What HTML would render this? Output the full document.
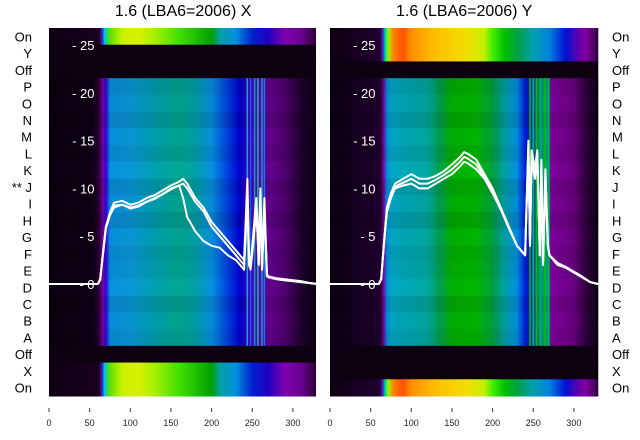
<!DOCTYPE html>
<html><head><meta charset="utf-8"><style>
body{margin:0;background:#fff;width:640px;height:440px;overflow:hidden}
svg{display:block;font-family:"Liberation Sans","DejaVu Sans",sans-serif}
</style></head><body>
<svg id="c" width="640" height="440"></svg>
<script>
const rowLabels=["On","Y","Off","P","O","N","M","L","K","J","I","H","G","F","E","D","C","B","A","Off","X","On"];
const xTicks=[0,50,100,150,200,250,300];
const yTicks=[0,5,10,15,20,25];
const freqs=[0,60,63,66,70,75,80,90,100,110,120,130,140,150,160,165,170,180,190,200,210,220,230,240,244,246,248,252,255,258,260,262,265,268,270,280,290,300,310,320,330];
const xLine1=[0,0,0.5,3,6,7.5,8.5,8.7,8.3,8.5,9,9.3,9.8,10.3,10.7,11,10.5,9,8,6.5,5.5,4.5,3.5,2.5,11,3,2,6,9,3,10,2,9,1,0.8,0.6,0.5,0.4,0.3,0.1,0];
const xLine2=[0,0,0.5,3,6,7.3,8.2,8.3,8,8.2,8.6,9,9.4,10,10.3,9,7,5.5,4.5,4,3.8,3,2.5,1.5,9,2,1.5,5,8,2,9,1.5,8,1,0.7,0.5,0.4,0.3,0.2,0.1,0];
const xLine3=[0,0,0.4,2.8,5.8,7.2,8,8.3,7.9,8.1,8.6,8.9,9.4,9.9,10.3,10.5,10,8.6,7.6,6,5,4,3,2,10,2.5,1.8,5,8,2.5,9,1.5,8,0.8,0.7,0.5,0.4,0.3,0.2,0.1,0];
const yLine1=[0,0,0.5,4,8,9.5,10.5,11,11.5,11,11,11.3,11.8,12.5,13.3,13.8,13.6,13,11.5,10,8,6,4,3,15,4,14,12,14,3,13,2,12,4,3,2.2,1.8,1.3,0.8,0.2,0];
const yLine2=[0,0,0.5,4,7.5,9,10,10.3,10.5,10,10,10.5,11,11.5,12.3,12.8,12.6,12,11,9.5,7.8,5.8,4,3,14,4,13,11,13,3,12,2,11,4,3,2,1.7,1.2,0.7,0.2,0];
const yLine3=[0,0,0.5,3.8,7.8,9.2,10.2,10.6,11,10.5,10.5,10.9,11.4,12,12.8,13.3,13.1,12.5,11.2,9.8,7.9,5.9,4,3,14.5,4,13.5,11.5,13.5,3,12.5,2,11.5,4,3,2.1,1.7,1.2,0.7,0.2,0];
const rowShade=[0,0,0,0.10,0.05,0.12,0.02,0.08,0,0.1,0.04,0.12,0.02,0.08,0.05,0,0.1,0.03,0.08,0,0,0];

const NS="http://www.w3.org/2000/svg";
const svgEl=document.getElementById('c');
function mk(t,a,p){const e=document.createElementNS(NS,t);for(const k in a)e.setAttribute(k,a[k]);(p||svgEl).appendChild(e);return e;}
const plotTop=28,plotBot=396,rowH=(plotBot-plotTop)/22;
const defs=mk('defs',{});
const brightX=[[0,'#0d0010'],[62,'#1a0020'],[64,'#6a0090'],[66,'#0040ff'],[68,'#00c0e0'],[75,'#60e000'],[90,'#c8f000'],[110,'#d8f000'],[130,'#a8f000'],[160,'#40e000'],[200,'#00a000'],[210,'#00a0a0'],[230,'#0090e0'],[250,'#0020d0'],[270,'#2000c0'],[290,'#8000b0'],[310,'#6a0090'],[330,'#2a0030']];
const midX=[[0,'#0a0010'],[55,'#100015'],[62,'#300040'],[66,'#8000a0'],[70,'#3000e0'],[75,'#0890e0'],[100,'#0a98d8'],[130,'#00a0b0'],[160,'#00a890'],[180,'#00a0a8'],[200,'#0890e0'],[220,'#0040e0'],[235,'#0000d0'],[245,'#4000c0'],[260,'#7000a0'],[290,'#500070'],[310,'#200030'],[330,'#0a0010']];
const brightY=[[0,'#0d0010'],[62,'#200030'],[64,'#8000a0'],[66,'#0060ff'],[68,'#00e080'],[72,'#a0f000'],[78,'#ff8000'],[90,'#ff5000'],[100,'#ff9000'],[130,'#ffc000'],[170,'#f0e000'],[190,'#c0f000'],[200,'#40f000'],[215,'#00c000'],[230,'#00a040'],[250,'#00a0b0'],[270,'#0080e0'],[290,'#0010d0'],[305,'#6000b0'],[315,'#8000a0'],[330,'#300040']];
const midY=[[0,'#0a0010'],[62,'#200030'],[66,'#8000a0'],[70,'#0090e0'],[75,'#00a8c8'],[120,'#00a8a0'],[135,'#00a050'],[150,'#00b000'],[180,'#00b800'],[200,'#00a040'],[215,'#00a0a8'],[230,'#0090e0'],[240,'#0020e0'],[245,'#0010d0'],[258,'#00a050'],[270,'#00a0a0'],[271,'#8000a0'],[300,'#6a0080'],[315,'#300040'],[330,'#0a0010']];
function grad(id,stops,xs){const g=mk('linearGradient',{id:id,gradientUnits:'userSpaceOnUse',x1:xs(0),x2:xs(330),y1:0,y2:0},defs);
 stops.forEach(s=>mk('stop',{offset:(s[0]/330),'stop-color':s[1]},g));}

function panel(p){
 const x0=p.x0,xs=v=>x0+v*0.813,ys=v=>284-v*9.56;
 const g=mk('g',{});
 grad(p.id+'b',p.bright,xs);grad(p.id+'m',p.mid,xs);
 for(let i=0;i<22;i++){
  const y=plotTop+i*rowH;let fill;
  if(p.brightRows.includes(i))fill='url(#'+p.id+'b)';else if(i>=3&&i<=18)fill='url(#'+p.id+'m)';else fill='#0d0010';
  const r=mk('rect',{x:xs(0),y:y,width:xs(330)-xs(0),height:rowH+0.5,fill:fill},g);
  
  
  if(rowShade[i]>0)mk('rect',{x:xs(0),y:y,width:xs(330)-xs(0),height:rowH,fill:'#000',opacity:rowShade[i]},g);
 }
 p.stripes.forEach(s=>mk('rect',{x:xs(s[0]),y:plotTop+3*rowH,width:1.5,height:16*rowH,fill:s[1]},g));
 yTicks.forEach(t=>{const e=mk('text',{x:xs(56),y:ys(t)+5,'text-anchor':'end','font-size':13,fill:'#fff'},g);e.textContent='- '+t;
  
  });
 p.lines.forEach((L,k)=>{const d=freqs.map((f,i)=>(i?'L':'M')+xs(f).toFixed(1)+','+ys(L[i]).toFixed(1)).join(' ');
  const e=mk('path',{d:d,fill:'none',stroke:'#fff','stroke-width':2,'stroke-linejoin':'round'},g);
  
  });
 xTicks.forEach(t=>{mk('line',{x1:xs(t),x2:xs(t),y1:408,y2:412,stroke:'#333'},g);
  const e=mk('text',{x:xs(t),y:426,'text-anchor':'middle','font-size':9,fill:'#222'},g);e.textContent=t;
  
  });
 const tt=mk('text',{x:xs(165),y:16,'text-anchor':'middle','font-size':16,fill:'#000'},g);tt.textContent=p.title;
 
 
}
panel({x0:49,id:'px',name:'x-panel',title:'1.6 (LBA6=2006) X',bright:brightX,mid:midX,brightRows:[0,20,21],
 stripes:[[243,'#00b0e0'],[247,'#0060ff'],[252,'#00a0d0'],[256,'#00c0c0'],[261,'#00a0e0'],[264,'#0080ff']],
 lines:[xLine1,xLine2,xLine3]});
mk('rect',{x:316,y:20,width:13,height:380,fill:'#fff'});
panel({x0:330,id:'py',name:'y-panel',title:'1.6 (LBA6=2006) Y',bright:brightY,mid:midY,brightRows:[0,1,21],
 stripes:[[245,'#00c000'],[249,'#00b0a0'],[253,'#00c000'],[258,'#00a0a0'],[263,'#00c000'],[268,'#00b040']],
 lines:[yLine1,yLine2,yLine3]});
rowLabels.forEach((l,i)=>{const y=plotTop+(i+0.5)*rowH+5;
 const a=mk('text',{x:32,y:y,'text-anchor':'end','font-size':13,fill:'#000'});a.textContent=(l==='J'?'** ':'')+l;
 
 
 const b=mk('text',{x:612,y:y,'font-size':13,fill:'#000'});b.textContent=l;
 
 });
</script>
</body></html>
